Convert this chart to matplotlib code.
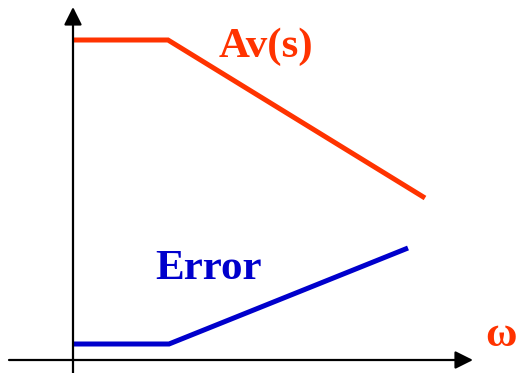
import matplotlib
matplotlib.use("Agg")
import matplotlib.pyplot as plt

# Chart data (pixel-like units, y upward)
av_x = [73, 168, 425]
av_y = [333, 333, 175]
err_x = [73, 169, 408]
err_y = [29, 29, 125]
labels = ["Av(s)", "Error", "ω"]

fig = plt.figure(figsize=(5.21, 3.73), dpi=100)
ax = fig.add_axes([0, 0, 1, 1])
ax.set_xlim(0, 521)
ax.set_ylim(0, 373)
ax.axis("off")

# axes with arrows
ax.annotate("", xy=(473, 13), xytext=(9, 13),
            arrowprops=dict(arrowstyle="-|>", lw=1.6, color="black", mutation_scale=27,
                            shrinkA=0, shrinkB=0))
ax.annotate("", xy=(73, 366), xytext=(73, 0),
            arrowprops=dict(arrowstyle="-|>", lw=1.6, color="black", mutation_scale=27,
                            shrinkA=0, shrinkB=0))

red = "#FF3300"
blue = "#0000CC"
ax.plot(av_x, av_y, color=red, lw=3.6, solid_capstyle="butt", solid_joinstyle="miter")
ax.plot(err_x, err_y, color=blue, lw=3.6, solid_capstyle="butt", solid_joinstyle="miter")

font = dict(family=["Liberation Serif", "DejaVu Serif"], fontweight="bold", fontsize=31)
ax.text(266, 326, labels[0], color=red, ha="center", va="center", **font)
ax.text(208, 104, labels[1], color=blue, ha="center", va="center", **font)
ax.text(501, 37, labels[2], color=red, ha="center", va="center", **font)

fig.savefig("out.png", dpi=100)
